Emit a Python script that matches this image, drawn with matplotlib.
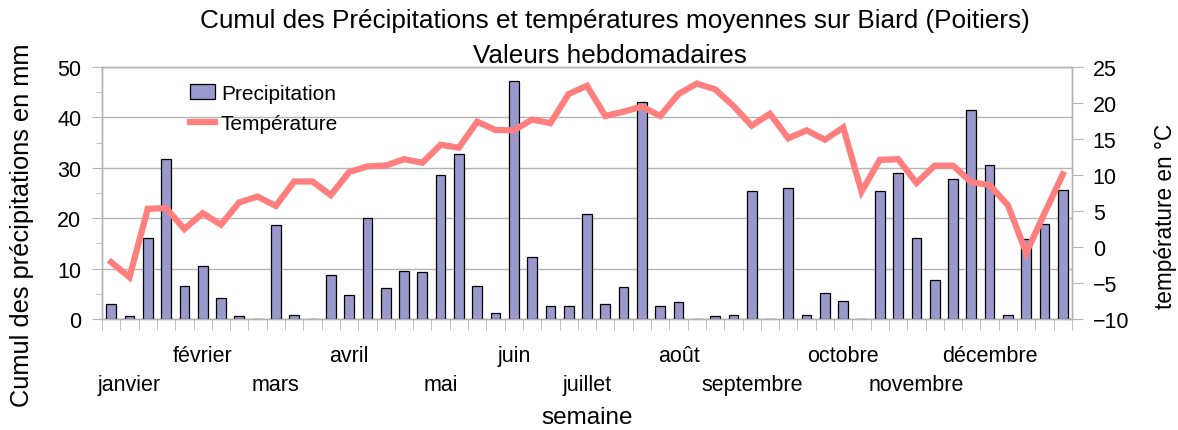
import matplotlib
matplotlib.use("Agg")
import matplotlib.pyplot as plt
import numpy as np
from matplotlib.ticker import MultipleLocator
from matplotlib.patches import Rectangle
from matplotlib.legend_handler import HandlerPatch

plt.rcParams['font.family'] = ['Liberation Sans', 'DejaVu Sans']

weeks = np.arange(1, 54)
precipitation = [3.0, 0.5, 16.0, 31.8, 6.6, 10.6, 4.2, 0.5, 0.0, 18.6,
                 0.8, 0.0, 8.7, 4.8, 20.0, 6.2, 9.5, 9.3, 28.6, 32.8,
                 6.6, 1.2, 47.2, 12.4, 2.6, 2.6, 20.8, 3.0, 6.4, 43.0,
                 2.6, 3.4, 0.0, 0.5, 0.8, 25.4, 0.0, 26.0, 0.8, 5.2,
                 3.6, 0.0, 25.4, 29.0, 16.1, 7.8, 27.8, 41.5, 30.6, 0.8,
                 15.9, 18.8, 25.6]
temperature = [-2.1, -4.2, 5.3, 5.4, 2.5, 4.7, 3.1, 6.2, 7.0, 5.7,
               9.1, 9.1, 7.2, 10.4, 11.2, 11.3, 12.2, 11.7, 14.2, 13.8,
               17.4, 16.25, 16.2, 17.7, 17.2, 21.25, 22.4, 18.2, 18.8, 19.5,
               18.2, 21.25, 22.7, 21.9, 19.6, 16.85, 18.5, 15.1, 16.2, 14.9,
               16.6, 7.7, 12.1, 12.2, 8.9, 11.3, 11.3, 9.0, 8.6, 5.8,
               -0.8, 4.7, 10.1]
month_labels = ['janvier', 'février', 'mars', 'avril', 'mai', 'juin',
                'juillet', 'août', 'septembre', 'octobre', 'novembre', 'décembre']
month_weeks = [2, 6, 10, 14, 19, 23, 27, 32, 36, 41, 45, 49]

GRID = '#b3b3b3'
BAR = '#9999cc'
LINE = '#ff7f7f'

fig = plt.figure(figsize=(11.78, 4.31), dpi=100)
ax = fig.add_axes([102/1178, 1 - 320/431, 970/1178, 252/431])
ax2 = ax.twinx()

x = np.arange(len(weeks))
bars = ax.bar(x, precipitation, width=0.53, color=BAR, edgecolor='black',
              linewidth=0.9, label='Precipitation', zorder=3)
line, = ax2.plot(x, temperature, color=LINE, linewidth=4.5,
                 solid_joinstyle='miter', label='Température', zorder=4)

ax.set_xlim(-0.5, len(weeks) - 0.5)
ax.set_ylim(0, 50)
ax2.set_ylim(-10, 25)
ax.yaxis.set_major_locator(MultipleLocator(10))
ax.yaxis.set_minor_locator(MultipleLocator(5))
ax2.yaxis.set_major_locator(MultipleLocator(5))
ax.grid(axis='y', which='major', color=GRID, linewidth=1.0, zorder=0)
ax.set_axisbelow(True)

for a in (ax, ax2):
    for s in a.spines.values():
        s.set_color(GRID)
        s.set_linewidth(1.0)

ax.tick_params(axis='y', which='major', length=7, color=GRID, labelsize=15.5, pad=8)
ax.tick_params(axis='y', which='minor', length=4, color=GRID)
ax2.tick_params(axis='y', which='major', length=8, color=GRID, labelsize=15.5, pad=7)

# x axis: minor ticks at week boundaries, labels at month starts
ax.set_xticks(np.arange(-0.5, len(weeks)), minor=True)
ax.tick_params(axis='x', which='minor', length=8, color=GRID)
ax.set_xticks([w - 1 for w in month_weeks], month_labels)
ax.tick_params(axis='x', which='major', length=0, labelsize=15.5)
for i, t in enumerate(ax.xaxis.get_major_ticks()):
    t.set_pad(19 if i % 2 == 1 else 39.5)

ax.set_ylabel('Cumul des précipitations en mm', fontsize=18.3)
ax.yaxis.set_label_coords((34 - 102) / 970, (320 - 225) / 252)
ax2.set_ylabel('température en °C', fontsize=16.3)
ax2.yaxis.set_label_coords((1154 - 102) / 970, (320 - 216) / 252)
ax.set_xlabel('semaine', fontsize=17.5, labelpad=8)
fig.text(615 / 1178, 1 - 21/431, 'Cumul des Précipitations et températures moyennes sur Biard (Poitiers)',
         ha='center', va='center', fontsize=18.8)
fig.text(610 / 1178, 1 - 56/431, 'Valeurs hebdomadaires', ha='center', va='center', fontsize=18.8)


def square_patch(legend, orig_handle, xdescent, ydescent, width, height, fontsize):
    s = 12.0
    return Rectangle((-xdescent + (width - s) / 2, -ydescent + (height - s) / 2), s, s)


ax2.legend([bars, line], ['Precipitation', 'Température'], loc='upper left',
           bbox_to_anchor=(0.071, 1.008), frameon=False, fontsize=15,
           handlelength=1.2, handletextpad=0.3, labelspacing=0.55,
           handler_map={type(bars.patches[0]): HandlerPatch(patch_func=square_patch)})

fig.savefig('out.png', dpi=100)
